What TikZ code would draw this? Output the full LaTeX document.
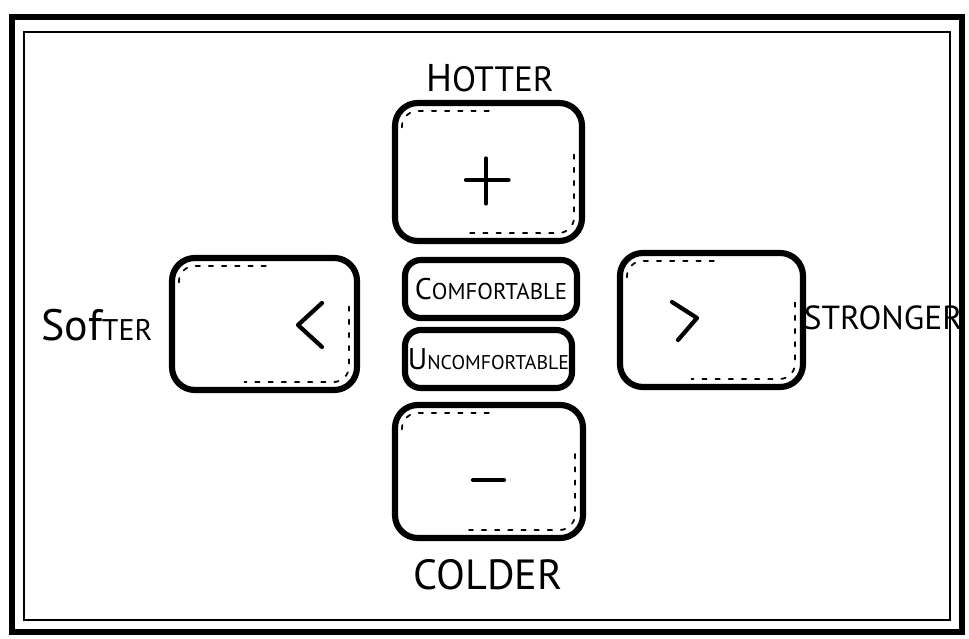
\documentclass[tikz,border=0pt]{standalone}
\usepackage{fontspec}
\setmainfont{PT Sans}
\usepackage{tikz}
\usetikzlibrary{calc}

\tikzset{
  keybox/.style={draw, line width=3.5pt, rounded corners=13pt, inner sep=0pt, align=center},
  keyshade/.style={line width=1pt, dash pattern=on 2.5pt off 5pt, line cap=round, rounded corners=9pt},
  keymark/.style={line width=2.4pt, line cap=round, line join=round},
}

% small caps by hand: big first letter, smaller rest
\newcommand{\hsc}[4]{{\fontsize{#1}{#1}\selectfont #3}{\fontsize{#2}{#2}\selectfont #4}}

% dashes inside a key, top left and bottom right
\newcommand{\keyhatch}[1]{%
  \draw[keyshade] ($(#1.north west)+(0.2,-0.55)$) |- ($(#1.north)+(0.1,-0.22)$);
  \draw[keyshade] ($(#1.east)+(-0.22,0.35)$) |- ($(#1.south)+(-0.4,0.22)$);
}

\begin{document}
\begin{tikzpicture}

\useasboundingbox (0,0) rectangle (19.38,12.76);

% --- Frame ---
\draw[line width=3pt] (0.24,0.12) rectangle (19.24,12.42);
\draw[line width=1.2pt] (0.48,0.36) rectangle (19.0,12.12);

% --- Keys ---
\node[keybox, minimum width=3.74cm, minimum height=2.76cm] (hot) at (9.77,9.32) {};
\node[keybox, minimum width=3.76cm, minimum height=2.66cm] (cold) at (9.78,3.33) {};
\node[keybox, minimum width=3.70cm, minimum height=2.64cm] (soft) at (5.29,6.28) {};
\node[keybox, minimum width=3.66cm, minimum height=2.68cm] (strong) at (14.23,6.36) {};
\node[keybox, rounded corners=9pt, minimum width=3.44cm, minimum height=1.16cm] (comf) at (9.82,6.98)
  {\hsc{17}{13}{C}{OMFORTABLE}};
\node[keybox, rounded corners=9pt, minimum width=3.34cm, minimum height=1.16cm] (uncomf) at (9.77,5.58)
  {\hsc{17}{11.3}{U}{NCOMFORTABLE}};

\keyhatch{hot}
\keyhatch{cold}
\keyhatch{soft}
\keyhatch{strong}

% --- Signs on the keys ---
\draw[keymark] ($(hot.center)+(-0.45,-0.16)$) -- ++(0.85,0);
\draw[keymark] ($(hot.center)+(-0.05,0.27)$) -- ++(0,-0.9);
\draw[keymark] ($(cold.center)+(-0.32,-0.17)$) -- ++(0.62,0);
\draw[keymark] ($(soft.center)+(1.15,0.42)$) -- ++(-0.48,-0.44) -- ++(0.48,-0.44);
\draw[keymark] ($(strong.center)+(-0.79,0.36)$) -- ++(0.5,-0.32) -- ++(-0.38,-0.44);

% --- Labels ---
\node (hotlbl) at (9.8,11.2) {\hsc{22}{20}{H}{OTTER}};
\node (coldlbl) at (9.76,1.26) {\hsc{24}{24}{C}{OLDER}};
\node (softlbl) at (1.94,6.26) {\hsc{25}{17}{Sof}{TER}};
\node (stronglbl) at (17.66,6.4) {\hsc{19}{19}{S}{TRONGER}};

\end{tikzpicture}
\end{document}
